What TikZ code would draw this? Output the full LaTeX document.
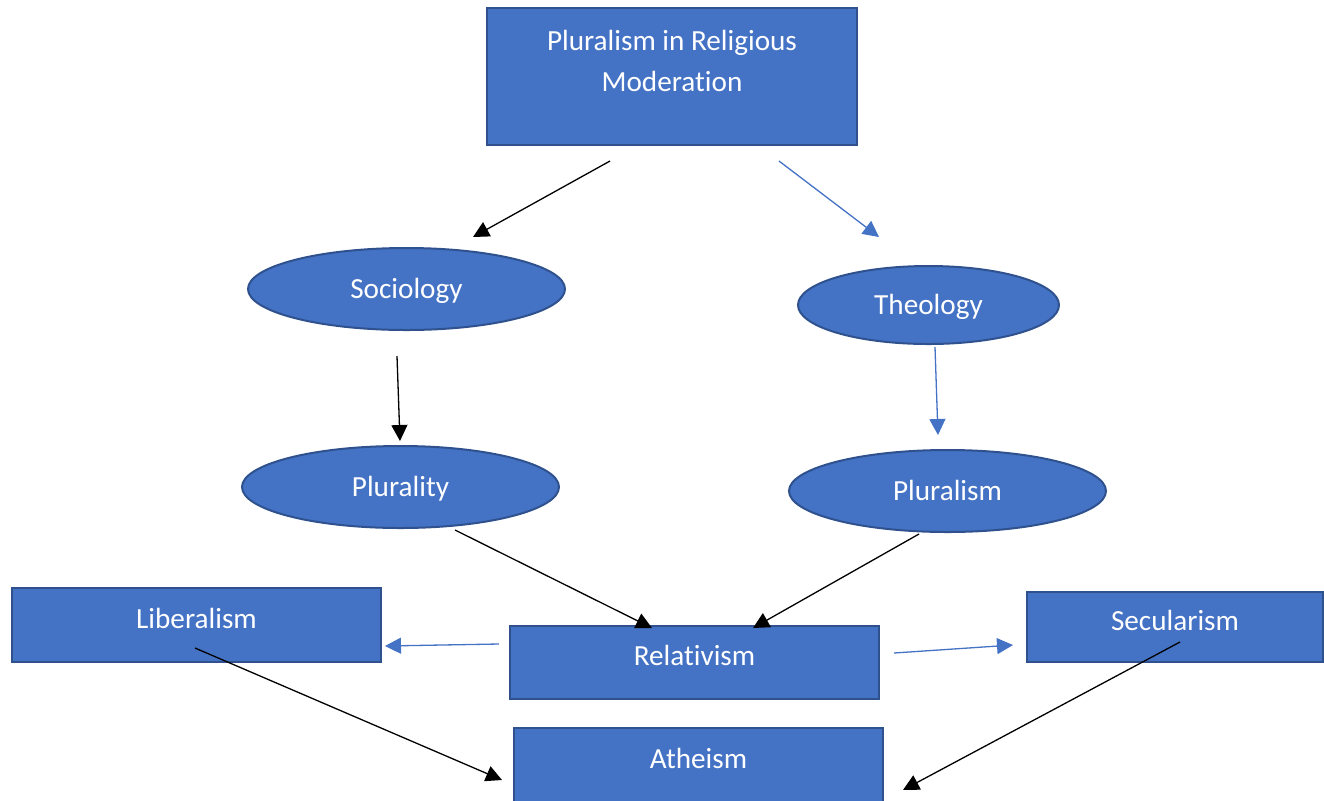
\documentclass[tikz,border=0pt]{standalone}
\usepackage{fontspec}
\setmainfont{Carlito}[Ligatures=NoCommon]
\usetikzlibrary{arrows.meta, calc, shapes.geometric}
\definecolor{boxfill}{HTML}{4472C4}
\definecolor{boxline}{HTML}{2F528F}

\begin{document}
\begin{tikzpicture}[
    x=0.5pt, y=-0.5pt,
    font=\fontsize{14.6}{20.5}\selectfont,
    blockbase/.style={
        draw=boxline, fill=boxfill, line width=1pt,
        text=white, inner sep=0pt
    },
    headbox/.style={
        blockbase, rectangle, align=center
    },
    topic/.style={
        blockbase, rectangle, text height=10pt, text depth=6.6pt
    },
    field/.style={
        blockbase, ellipse, text height=10pt, text depth=0.6pt
    },
    link/.style={-{Triangle[length=8pt,width=8pt]}, line width=0.65pt, draw=black},
    bluelink/.style={link, draw=boxfill}
]

% ---- Frame of the picture (the last box runs past the lower edge) ----
\useasboundingbox (0,0) rectangle (1324,800);
\clip (0,0) rectangle (1324,800);

% ---- The heading ----
\node[headbox, minimum width=185pt, minimum height=68.5pt] (prm) at (672,76.5)
     {Pluralism in Religious\\Moderation\\[-4.7pt]\mbox{}};

% ---- The two fields and what each one yields ----
\node[field, minimum width=158.5pt, minimum height=41pt] (soc)  at (406.5,289) {Sociology};
\node[field, minimum width=130.5pt, minimum height=39pt] (theo) at (928.5,305) {Theology};
\node[field, minimum width=158.5pt, minimum height=41pt] (plty) at (400.5,487) {Plurality};
\node[field, minimum width=158.5pt, minimum height=41pt] (plsm) at (947.5,491) {Pluralism};

% ---- The bottom row ----
\node[topic, minimum width=184.5pt, minimum height=37pt]   (lib) at (196.5,625)   {Liberalism};
\node[topic, minimum width=184.5pt, minimum height=36.5pt] (rel) at (694.5,662.5) {Relativism};
\node[topic, minimum width=148pt,   minimum height=35pt]   (sec) at (1175,627)    {Secularism};
\node[topic, minimum width=184.5pt, minimum height=40pt, text depth=9.6pt]
     (ath) at (698.5,768) {Atheism};

% ---- Connectors (they stop short of the shapes) ----
\draw[link]     ($(prm.south)+(-62,15)$)   -- ($(soc.north)+(66.5,-10)$);
\draw[bluelink] ($(prm.south)+(107,15)$)   -- ($(theo.north)+(-49.5,-28)$);
\draw[link]     ($(soc.south)+(-9.5,25)$)  -- ($(plty.north)+(-0.5,-4)$);
\draw[bluelink] ($(theo.south)+(6.5,2)$)   -- ($(plsm.north)+(-9.5,-14)$);
\draw[link]     ($(plty.south)+(54.5,1)$)  -- ($(rel.north)+(-42.5,3)$);
\draw[link]     ($(plsm.south)+(-28.5,1)$) -- ($(rel.north)+(58.5,3)$);
\draw[bluelink] ($(rel.west)+(-10,-18.5)$) -- ($(lib.east)+(3,21)$);
\draw[bluelink] ($(rel.east)+(14,-9.5)$)   -- ($(sec.west)+(-13,18)$);
\draw[link]     ($(lib.center)+(-1.5,23)$) -- ($(ath.west)+(-11,12)$);
\draw[link]     ($(sec.center)+(5,15)$)    -- ($(ath.east)+(19,22)$);

\end{tikzpicture}
\end{document}
